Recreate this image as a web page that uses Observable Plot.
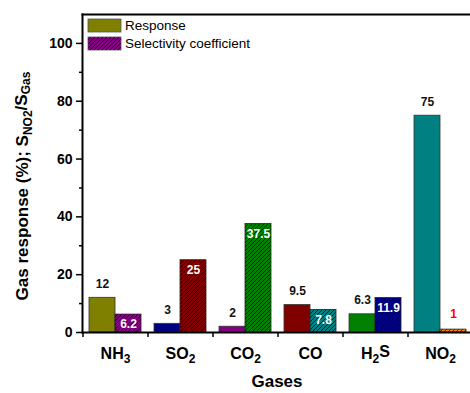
<!DOCTYPE html>
<html>
<head>
<meta charset="utf-8">
<script src="https://cdn.jsdelivr.net/npm/d3@7"></script>
<script src="https://cdn.jsdelivr.net/npm/@observablehq/plot@0.6"></script>
<style>
  html, body { margin: 0; padding: 0; background: #fff; }
  #chart svg { display: block; }
</style>
</head>
<body>
<div id="chart"></div>
<script>
// ---- data ----
const gases = ["NH3", "SO2", "CO2", "CO", "H2S", "NO2"];
const response = [12, 3, 2, 9.5, 6.3, 75];
const selectivity = [6.2, 25, 37.5, 7.8, 11.9, 1];
const responseColors = ["#808000", "#000080", "#800080", "#800000", "#008000", "#008080"];
const selectivityColors = ["#800080", "#800000", "#008000", "#008080", "#000080", "#ff8000"];
const yMajorTicks = [0, 20, 40, 60, 80, 100];
const yMinorTicks = [10, 30, 50, 70, 90];
const seriesNames = ["Response", "Selectivity coefficient"];

const data = gases.map((g, i) => ({
  gas: g, response: response[i], selectivity: selectivity[i],
  rc: responseColors[i], sc: selectivityColors[i]
}));

const FONT = "'Liberation Sans', Arial, sans-serif";
const half = 26; // one bar = half of the group width

const chart = Plot.plot({
  width: 470,
  height: 393,
  marginLeft: 82,
  marginRight: 0,
  marginTop: 14,
  marginBottom: 61,
  style: { fontFamily: FONT, background: "#fff", color: "#000" },
  x: { domain: gases, range: [82, 472], paddingInner: 0.2, paddingOuter: 0.1, axis: null },
  y: { domain: [0, 110], axis: null },
  marks: [
    // response bars (solid)
    Plot.barY(data, { x: "gas", y: "response", fill: "rc", stroke: "#333", strokeWidth: 0.8, insetRight: half }),
    // selectivity bars (coloured + hatching overlay)
    Plot.barY(data, { x: "gas", y: "selectivity", fill: "sc", insetLeft: half }),
    Plot.barY(data, { x: "gas", y: "selectivity", fill: "url(#hatch)", stroke: "#222", strokeWidth: 0.8, insetLeft: half }),
    // value labels
    Plot.text(data, { x: "gas", y: "response", text: d => String(d.response), dx: -13, dy: -14,
      fontSize: 12, fontWeight: "bold", fill: "#111" }),
    Plot.text(data.filter(d => d.selectivity > 3), { x: "gas", y: "selectivity", text: d => String(d.selectivity),
      dx: 13, dy: 10, fontSize: 12, fontWeight: "bold", fill: "#fff" }),
    Plot.text(data.filter(d => d.selectivity <= 3), { x: "gas", y: "selectivity", text: d => String(d.selectivity),
      dx: 13, dy: -15, fontSize: 12, fontWeight: "bold", fill: "#ff0000" }),
    // axes
    Plot.axisY({ ticks: yMajorTicks, tickSize: 6, tickPadding: 4, fontSize: 14, fontWeight: "bold", label: null, strokeWidth: 1.5 }),
    Plot.axisY({ ticks: yMinorTicks, tickSize: 3, tickFormat: () => "", label: null, strokeWidth: 1.5 }),
    Plot.axisX({ ticks: gases, tickSize: 5, tickFormat: () => "", dx: -32.5, label: null, strokeWidth: 1.5 }),
    Plot.axisX({ ticks: gases, tickSize: 0, tickPadding: 15, fontSize: 16, fontWeight: "bold", label: null }),
    // frame lines
    Plot.frame({ anchor: "left", strokeWidth: 2 }),
    Plot.frame({ anchor: "bottom", strokeWidth: 2 }),
    Plot.frame({ anchor: "top", strokeWidth: 2 })
  ]
});

document.getElementById("chart").appendChild(chart);

const svg = d3.select(chart);

// hatch pattern
const defs = svg.insert("defs", ":first-child");
defs.append("pattern")
  .attr("id", "hatch")
  .attr("patternUnits", "userSpaceOnUse")
  .attr("width", 4).attr("height", 4)
  .append("path")
  .attr("d", "M-1,1 l2,-2 M0,4 l4,-4 M3,5 l2,-2")
  .attr("stroke", "#000")
  .attr("stroke-width", 0.9)
  .attr("stroke-opacity", 0.75);

// subscripts in x tick labels
svg.selectAll('g[aria-label="x-axis tick label"] text').each(function () {
  const t = d3.select(this);
  const label = t.text();
  t.text(null);
  const parts = label.split(/(\d)/).filter(s => s !== "");
  let sub = false;
  parts.forEach(p => {
    const isDigit = /^\d$/.test(p);
    const ts = t.append("tspan").text(p);
    if (isDigit && !sub) { ts.attr("dy", "0.35em").attr("font-size", "12px"); sub = true; }
    else if (!isDigit && sub) { ts.attr("dy", "-0.35em"); sub = false; }
  });
});

// y-axis title with subscripts
const yt = svg.append("text")
  .attr("transform", "translate(28,186) rotate(-90)")
  .attr("text-anchor", "middle")
  .attr("font-family", FONT)
  .attr("font-size", 17)
  .attr("font-weight", "bold")
  .attr("fill", "#000");
yt.append("tspan").text("Gas response (%); S");
yt.append("tspan").attr("dy", "0.3em").attr("font-size", "12px").text("NO2");
yt.append("tspan").attr("dy", "-0.3em").text("/S");
yt.append("tspan").attr("dy", "0.3em").attr("font-size", "12px").text("Gas");

// x-axis title
svg.append("text")
  .attr("x", 277).attr("y", 387)
  .attr("text-anchor", "middle")
  .attr("font-family", FONT)
  .attr("font-size", 17)
  .attr("font-weight", "bold")
  .attr("fill", "#000")
  .text("Gases");

// legend (inside plot, top-left)
const lg = svg.append("g").attr("font-family", FONT).attr("text-anchor", "start");
seriesNames.forEach((name, i) => {
  const y0 = 19 + i * 18;
  lg.append("rect").attr("x", 88).attr("y", y0).attr("width", 33).attr("height", 13)
    .attr("fill", i === 0 ? responseColors[0] : selectivityColors[0]).attr("stroke", "#555").attr("stroke-width", 0.8);
  if (i === 1) {
    lg.append("rect").attr("x", 88).attr("y", y0).attr("width", 33).attr("height", 13)
      .attr("fill", "url(#hatch)");
  }
  lg.append("text").attr("x", 125).attr("y", y0 + 11).attr("font-size", 13.5).attr("fill", "#000")
    .attr("text-anchor", "start").text(name);
});
</script>
</body>
</html>
